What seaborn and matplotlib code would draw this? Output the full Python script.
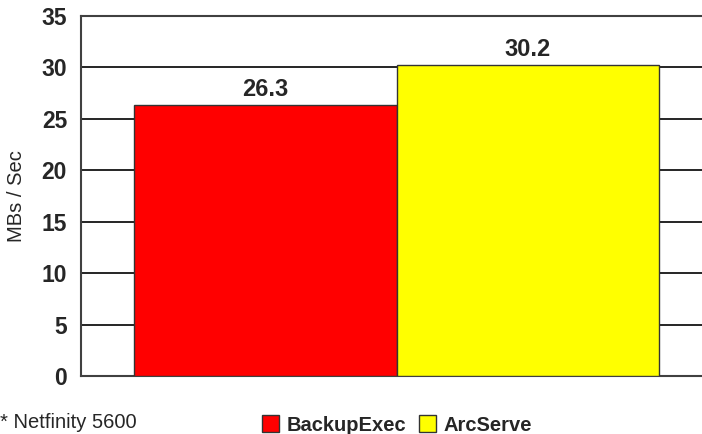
import matplotlib
matplotlib.use('Agg')
import matplotlib.pyplot as plt
import matplotlib.patches as mpatches
import seaborn as sns

# 数据
systems = ['BackupExec', 'ArcServe']
rates = [26.3, 30.2]
bar_colors = ['#ff0000', '#ffff00']
y_ticks = [0, 5, 10, 15, 20, 25, 30, 35]

sns.set_style('white')
plt.rcParams['font.family'] = ['Liberation Sans', 'DejaVu Sans']

fig = plt.figure(figsize=(7.02, 4.34), dpi=100)
ax = fig.add_axes([81 / 702, 1 - 376 / 434, 631 / 702, 360 / 434])

sns.barplot(x=systems, y=rates, hue=systems, palette=bar_colors, width=1.0,
            saturation=1, edgecolor='#333333', linewidth=1.0, legend=False,
            ax=ax, zorder=3)

ax.set_xlim(-0.702, 1.702)
ax.set_ylim(0, 35)
ax.set_yticks(y_ticks)
ax.set_yticklabels([str(t) for t in y_ticks], fontsize=16.5, fontweight='bold')
ax.tick_params(axis='y', length=0, pad=10)
ax.set_xticks([])
ax.set_xlabel('')
ax.set_ylabel('MBs / Sec', fontsize=14.5)
ax.yaxis.set_label_coords((26 - 81) / 631, 0.5)

# 网格线
for t in y_ticks[1:-1]:
    ax.axhline(t, color='black', linewidth=1.2, zorder=1)

for side in ['left', 'bottom', 'top']:
    ax.spines[side].set_color('#404040')
    ax.spines[side].set_linewidth(1.5)
ax.spines['right'].set_visible(False)

# 数值标签
for i, v in enumerate(rates):
    ax.text(i, v + 0.4, f'{v:.1f}', ha='center', va='bottom',
            fontsize=17, fontweight='bold')

# 图例
handles = [mpatches.Patch(facecolor=c, edgecolor='#333333', linewidth=1.0, label=s)
           for s, c in zip(systems, bar_colors)]
fig.legend(handles=handles, loc='center', bbox_to_anchor=(397 / 702, 1 - 425 / 434),
           ncol=2, frameon=False, handlelength=0.85, handleheight=0.85,
           handletextpad=0.4, columnspacing=0.6,
           prop={'size': 14.5, 'weight': 'bold'})

fig.text(0, 1 - 432 / 434, '* Netfinity 5600', fontsize=14.5, ha='left', va='bottom')

fig.savefig('out.png', dpi=100)
